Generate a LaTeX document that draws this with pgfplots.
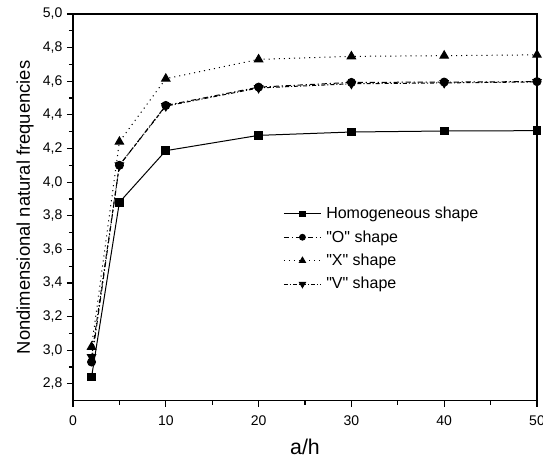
\documentclass[border=0pt]{standalone}
\usepackage{fontspec}
\setmainfont{Liberation Sans}
\usepackage{pgfplots}
\pgfplotsset{compat=1.18}

\begin{document}
\begin{tikzpicture}
\begin{axis}[
  scale only axis,
  width=348pt, height=290pt,
  xmin=0, xmax=50, ymin=2.7, ymax=5.0,
  xtick={0,10,...,50},
  ytick={2.8,3.0,...,5.01},
  minor x tick num=1, minor y tick num=1,
  tick align=outside,
  xtick pos=bottom, ytick pos=left,
  major tick length=4.5pt, minor tick length=3pt,
  axis line style={line width=0.9pt},
  every tick/.style={black, line width=0.9pt},
  /pgf/number format/assume math mode=true,
  yticklabel style={/pgf/number format/.cd, use comma, fixed, precision=1, fixed zerofill},
  xticklabel style={yshift=-3pt},
  ticklabel style={font=\fontsize{10.5}{11}\selectfont},
  xlabel={a/h}, ylabel={Nondimensional natural frequencies},
  xlabel style={font=\fontsize{16}{17}\selectfont,
    at={(axis description cs:0.5,0)}, anchor=base, yshift=-40.5pt},
  ylabel style={font=\fontsize{13.8}{15}\selectfont,
    at={(axis description cs:0,0.5)}, anchor=center, yshift=36pt},
  legend style={draw=none, fill=none, inner sep=0pt, at={(0.4526,0.505)}, anchor=north west,
    font=\fontsize{12}{13}\selectfont, row sep=5.4pt, column sep=2.5pt,
    nodes={inner sep=1pt}},
  legend cell align=left,
  legend image code/.code={
    \draw[#1, /tikz/every mark/.append style={scale=0.72}, mark repeat=2, mark phase=2]
      plot coordinates {(0pt,0pt) (14pt,0pt) (28pt,0pt)};
  },
  every axis plot/.append style={black, line width=0.75pt},
]
\addplot[mark=square*, solid, mark size=2.9pt] coordinates {
  (2,2.84) (5,3.88) (10,4.187) (20,4.278) (30,4.298) (40,4.304) (50,4.306)};
\addlegendentry{Homogeneous shape}
\addplot[mark=*, mark size=3pt, mark options={solid},
  dash pattern=on 4pt off 2pt on 1pt off 2pt] coordinates {
  (2,2.93) (5,4.10) (10,4.456) (20,4.565) (30,4.593) (40,4.595) (50,4.598)};
\addlegendentry{\textquotedbl O\textquotedbl{} shape}
\addplot[mark=triangle*, mark size=3.6pt, mark options={solid},
  dash pattern=on 0.8pt off 3pt] coordinates {
  (2,3.02) (5,4.24) (10,4.615) (20,4.73) (30,4.748) (40,4.752) (50,4.757)};
\addlegendentry{\textquotedbl X\textquotedbl{} shape}
\addplot[mark=triangle*, mark size=3.6pt, mark options={rotate=180, solid},
  dash pattern=on 3pt off 1.5pt on 0.8pt off 1.5pt] coordinates {
  (2,2.96) (5,4.10) (10,4.452) (20,4.56) (30,4.585) (40,4.59) (50,4.596)};
\addlegendentry{\textquotedbl V\textquotedbl{} shape}
\end{axis}
\pgfresetboundingbox
\path ([shift={(-54.75pt,-46.5pt)}]current axis.south west)
  rectangle ([shift={(4.5pt,10.5pt)}]current axis.north east);
\end{tikzpicture}
\end{document}
